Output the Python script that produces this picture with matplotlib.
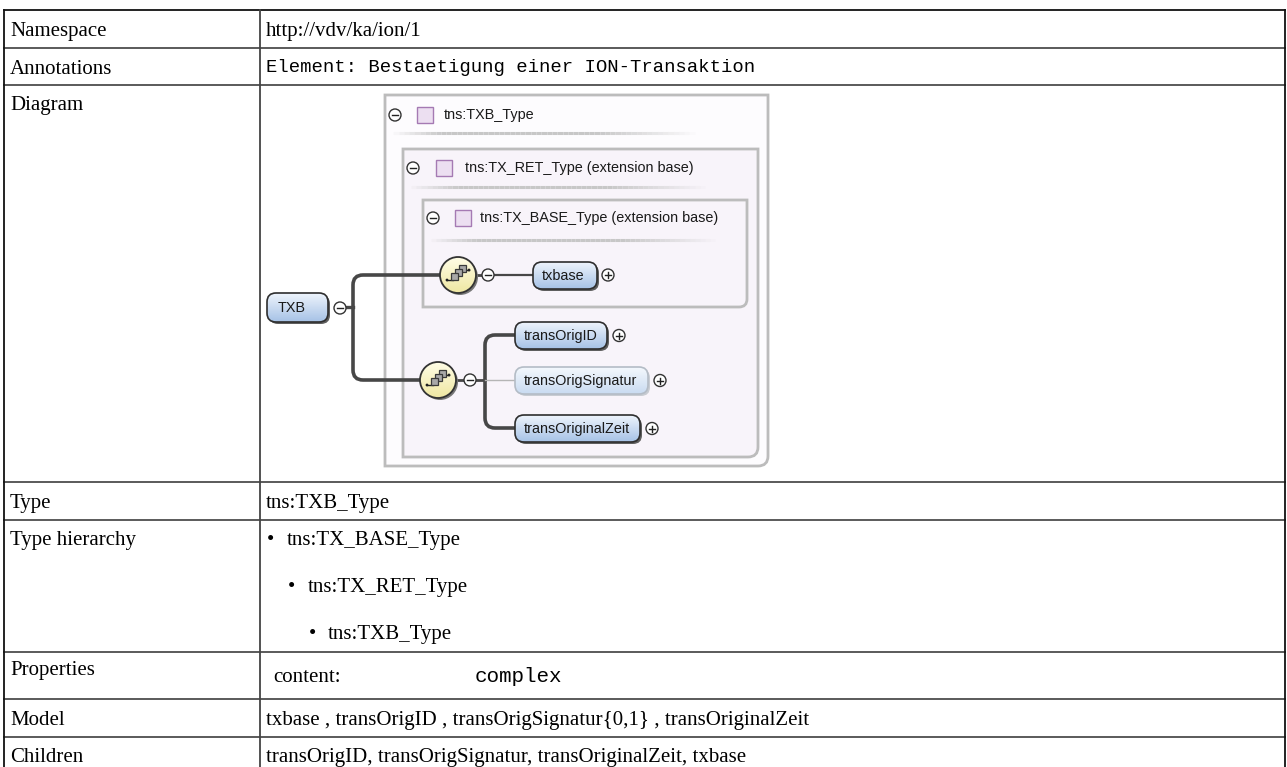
import numpy as np
import matplotlib
matplotlib.use("Agg")
import matplotlib.pyplot as plt
from matplotlib.patches import FancyBboxPatch, Circle, PathPatch, Rectangle
from matplotlib.path import Path
from matplotlib.colors import to_rgb
from matplotlib.collections import LineCollection

# ---------------- data ----------------
row_labels = ["Namespace", "Annotations", "Diagram", "Type", "Type hierarchy",
              "Properties", "Model", "Children"]
namespace_value = "http://vdv/ka/ion/1"
annotation_value = "Element: Bestaetigung einer ION-Transaktion"
type_value = "tns:TXB_Type"
hierarchy_values = ["tns:TX_BASE_Type", "tns:TX_RET_Type", "tns:TXB_Type"]
property_names = ["content:"]
property_values = ["complex"]
model_value = "txbase , transOrigID , transOrigSignatur{0,1} , transOriginalZeit"
children_value = "transOrigID, transOrigSignatur, transOriginalZeit, txbase"

diagram_root = "TXB"
type_headers = ["tns:TXB_Type", "tns:TX_RET_Type (extension base)",
                "tns:TX_BASE_Type (extension base)"]
base_elements = ["txbase"]
own_elements = ["transOrigID", "transOrigSignatur", "transOriginalZeit"]
own_optional = [False, True, False]

# ---------------- layout ----------------
W, H = 1287, 767
row_edges = [10, 48, 85, 482, 520, 652, 699, 737, 778]
x_left, x_div, x_right = 4, 260, 1285
SERIF = "Liberation Serif"
MONO = "Liberation Mono"
SANS = "Liberation Sans"
FS = 15
DFS = 10.4

fig = plt.figure(figsize=(W / 100, H / 100), dpi=100)
ax = fig.add_axes([0, 0, 1, 1])
ax.set_xlim(0, W)
ax.set_ylim(H, 0)
ax.axis("off")

# ---------------- table grid ----------------
for y in row_edges[1:-1]:
    ax.plot([x_left, x_right], [y, y], color="#5a5a5a", lw=1.4, zorder=1)
ax.plot([x_left, x_right], [row_edges[0], row_edges[0]], color="#111", lw=1.3)
for x in (x_left, x_right):
    ax.plot([x, x], [row_edges[0], row_edges[-1]], color="#111", lw=1.3)
ax.plot([x_div, x_div], [row_edges[0], row_edges[-1]], color="#444", lw=1.3)

label_baselines = [36, 74, 110, 508, 545, 675, 725, 762]
for lab, yb in zip(row_labels, label_baselines):
    ax.text(10, yb, lab, family=SERIF, fontsize=FS, va="baseline", ha="left")

vx = 266
ax.text(vx, 36, namespace_value, family=SERIF, fontsize=FS, va="baseline")
ax.text(vx, 72, annotation_value, family=MONO, fontsize=13.6, va="baseline")
ax.text(vx, 508, type_value, family=SERIF, fontsize=FS, va="baseline")
hier_base = [545, 592, 639]
for i, (h, yb) in enumerate(zip(hierarchy_values, hier_base)):
    bx = 271 + 20.5 * i
    ax.text(bx, yb, "\u2022", family=SERIF, fontsize=FS, va="baseline", ha="center")
    ax.text(bx + 16, yb, h, family=SERIF, fontsize=FS, va="baseline")
ax.text(273, 682, property_names[0], family=SERIF, fontsize=FS, va="baseline")
ax.text(475, 682, property_values[0], family=MONO, fontsize=15, va="baseline")
ax.text(vx, 725, model_value, family=SERIF, fontsize=FS, va="baseline")
ax.text(vx, 762, children_value, family=SERIF, fontsize=FS, va="baseline")


# ---------------- diagram helpers ----------------
def br_round_box(x0, y0, x1, y1, r, fc, ec, lw, z):
    verts = [(x0, y0), (x1, y0), (x1, y1 - r), (x1, y1), (x1 - r, y1),
             (x0, y1), (x0, y0)]
    codes = [Path.MOVETO, Path.LINETO, Path.LINETO, Path.CURVE3, Path.CURVE3,
             Path.LINETO, Path.CLOSEPOLY]
    ax.add_patch(PathPatch(Path(verts, codes), fc=fc, ec=ec, lw=lw, zorder=z))


def gradient_fill(patch, top, bottom, x0, y0, x1, y1, z):
    c0, c1 = np.array(to_rgb(top)), np.array(to_rgb(bottom))
    t = np.linspace(0, 1, 64)[:, None, None]
    grad = c0 * (1 - t) + c1 * t
    im = ax.imshow(grad, extent=(x0, x1, y1, y0), origin="upper",
                   aspect="auto", zorder=z, interpolation="bilinear")
    im.set_clip_path(patch)


def pill(x0, y0, x1, y1, text, optional=False, z=5, pad=9):
    r = 9
    sh_col = "#c8ccd2" if optional else "#5e5e5e"
    ax.add_patch(FancyBboxPatch((x0 + 2, y0 + 2), x1 - x0, y1 - y0,
                                boxstyle=f"round,pad=0,rounding_size={r}",
                                fc=sh_col, ec="none", zorder=z))
    p = FancyBboxPatch((x0, y0), x1 - x0, y1 - y0,
                       boxstyle=f"round,pad=0,rounding_size={r}",
                       fc="none", ec=("#b4bcc6" if optional else "#2e2e2e"),
                       lw=1.2, zorder=z + 2)
    ax.add_patch(p)
    if optional:
        gradient_fill(p, "#f4f8fd", "#c9dbf1", x0, y0, x1, y1, z + 1)
    else:
        gradient_fill(p, "#eef4fc", "#a6c2e6", x0, y0, x1, y1, z + 1)
    ax.text(x0 + pad, (y0 + y1) / 2 + 0.5, text, family=SANS, fontsize=DFS,
            va="center", ha="left", color="#1a1a1a", zorder=z + 3)


def toggle(cx, cy, plus=False, z=6):
    ax.add_patch(Circle((cx, cy), 6, fc="white", ec="#333", lw=1.0, zorder=z))
    ax.plot([cx - 3, cx + 3], [cy, cy], color="#222", lw=1.0, zorder=z + 1)
    if plus:
        ax.plot([cx, cx], [cy - 3, cy + 3], color="#222", lw=1.0, zorder=z + 1)


def sequence(cx, cy, z=6):
    r = 18
    ax.add_patch(Circle((cx + 2, cy + 2), r, fc="#777", ec="none", zorder=z))
    c = Circle((cx, cy), r, fc="none", ec="#333", lw=1.3, zorder=z + 2)
    ax.add_patch(c)
    gradient_fill(c, "#fffde6", "#efe7a2", cx - r, cy - r, cx + r, cy + r, z + 1)
    ax.plot([cx - 11, cx - 5], [cy + 5, cy + 5], color="#222", lw=1.0, zorder=z + 3)
    ax.plot([cx + 6, cx + 11], [cy - 5, cy - 5], color="#222", lw=1.0, zorder=z + 3)
    ax.add_patch(Circle((cx - 11, cy + 5), 1.4, fc="#222", ec="none", zorder=z + 3))
    ax.add_patch(Circle((cx + 11, cy - 5), 1.4, fc="#222", ec="none", zorder=z + 3))
    for k, (dx, dy) in enumerate([(1, -10), (-3, -6), (-7, -2)]):
        ax.add_patch(Rectangle((cx + dx, cy + dy), 7, 7, fc="#a8a8a8",
                               ec="#3a3a3a", lw=0.9, zorder=z + 4 + k))


def header(cx, sqx, tx, cy, text, sep_x0, sep_x1, sep_y):
    toggle(cx, cy)
    ax.add_patch(Rectangle((sqx, cy - 8), 16, 16, fc="#ecdff1", ec="#a57ab3",
                           lw=1.0, zorder=6))
    ax.text(tx, cy, text, family=SANS, fontsize=DFS, va="center", ha="left",
            color="#1a1a1a", zorder=6)
    xs = np.linspace(sep_x0, sep_x1, 60)
    segs = [[(xs[i], sep_y), (xs[i + 1], sep_y)] for i in range(len(xs) - 1)]
    mid = np.linspace(0, 1, len(segs))
    alpha = np.clip(np.minimum(mid * 6, (1 - mid) * 3), 0, 1)
    cols = [(0.78, 0.78, 0.78, a) for a in alpha]
    ax.add_collection(LineCollection(segs, colors=cols, lw=2.2, zorder=4))


# ---------------- diagram boxes ----------------
br_round_box(385, 95, 768, 466, 10, "#fdfcfe", "#bcbcbc", 2.0, 2)
br_round_box(403, 149, 758, 457, 10, "#f8f4fa", "#bcbcbc", 2.0, 3)
br_round_box(423, 200, 747, 307, 8, "#f8f4fa", "#bcbcbc", 2.0, 3.5)

header(395, 417, 444, 115, type_headers[0], 388, 700, 133)
header(413, 436, 465, 168, type_headers[1], 406, 710, 187)
header(433, 455, 480, 218, type_headers[2], 426, 720, 240)

# ---------------- connectors ----------------
LC = "#474747"
rr = 10
jx = 353
ax.plot([346, jx], [307, 307], color=LC, lw=2.4, zorder=4)
p1 = Path([(440, 275), (jx + rr, 275), (jx, 275), (jx, 275 + rr),
           (jx, 380 - rr), (jx, 380), (jx + rr, 380), (420, 380)],
          [Path.MOVETO, Path.LINETO, Path.CURVE3, Path.CURVE3,
           Path.LINETO, Path.CURVE3, Path.CURVE3, Path.LINETO])
ax.add_patch(PathPatch(p1, fc="none", ec=LC, lw=2.6, zorder=4))

bx = 485
ax.plot([456, 464], [380, 380], color=LC, lw=2.0, zorder=4)
ax.plot([476, bx], [380, 380], color=LC, lw=2.0, zorder=4)
p2 = Path([(515, 335), (bx + rr, 335), (bx, 335), (bx, 335 + rr),
           (bx, 428 - rr), (bx, 428), (bx + rr, 428), (515, 428)],
          [Path.MOVETO, Path.LINETO, Path.CURVE3, Path.CURVE3,
           Path.LINETO, Path.CURVE3, Path.CURVE3, Path.LINETO])
ax.add_patch(PathPatch(p2, fc="none", ec=LC, lw=2.6, zorder=4))
ax.plot([bx, 515], [380, 380], color="#b5b5b5", lw=1.0, zorder=4)

ax.plot([476, 482], [275, 275], color=LC, lw=2.0, zorder=4)
ax.plot([494, 533], [275, 275], color=LC, lw=1.6, zorder=4)

# ---------------- nodes ----------------
pill(267, 293, 328, 322, diagram_root, pad=11)
toggle(340, 308)
sequence(458, 275)
toggle(488, 275)
sequence(438, 380)
toggle(470, 380)

pill(533, 262, 597, 289, base_elements[0])
toggle(608, 275, plus=True)

own_boxes = [(515, 322, 607, 349), (515, 367, 648, 394), (515, 415, 640, 442)]
for name, opt, (x0, y0, x1, y1) in zip(own_elements, own_optional, own_boxes):
    pill(x0, y0, x1, y1, name, optional=opt)
    toggle(x1 + 12, (y0 + y1) / 2, plus=True)

ax.set_xlim(0, W)
ax.set_ylim(H, 0)
fig.savefig("out.png", dpi=100)
